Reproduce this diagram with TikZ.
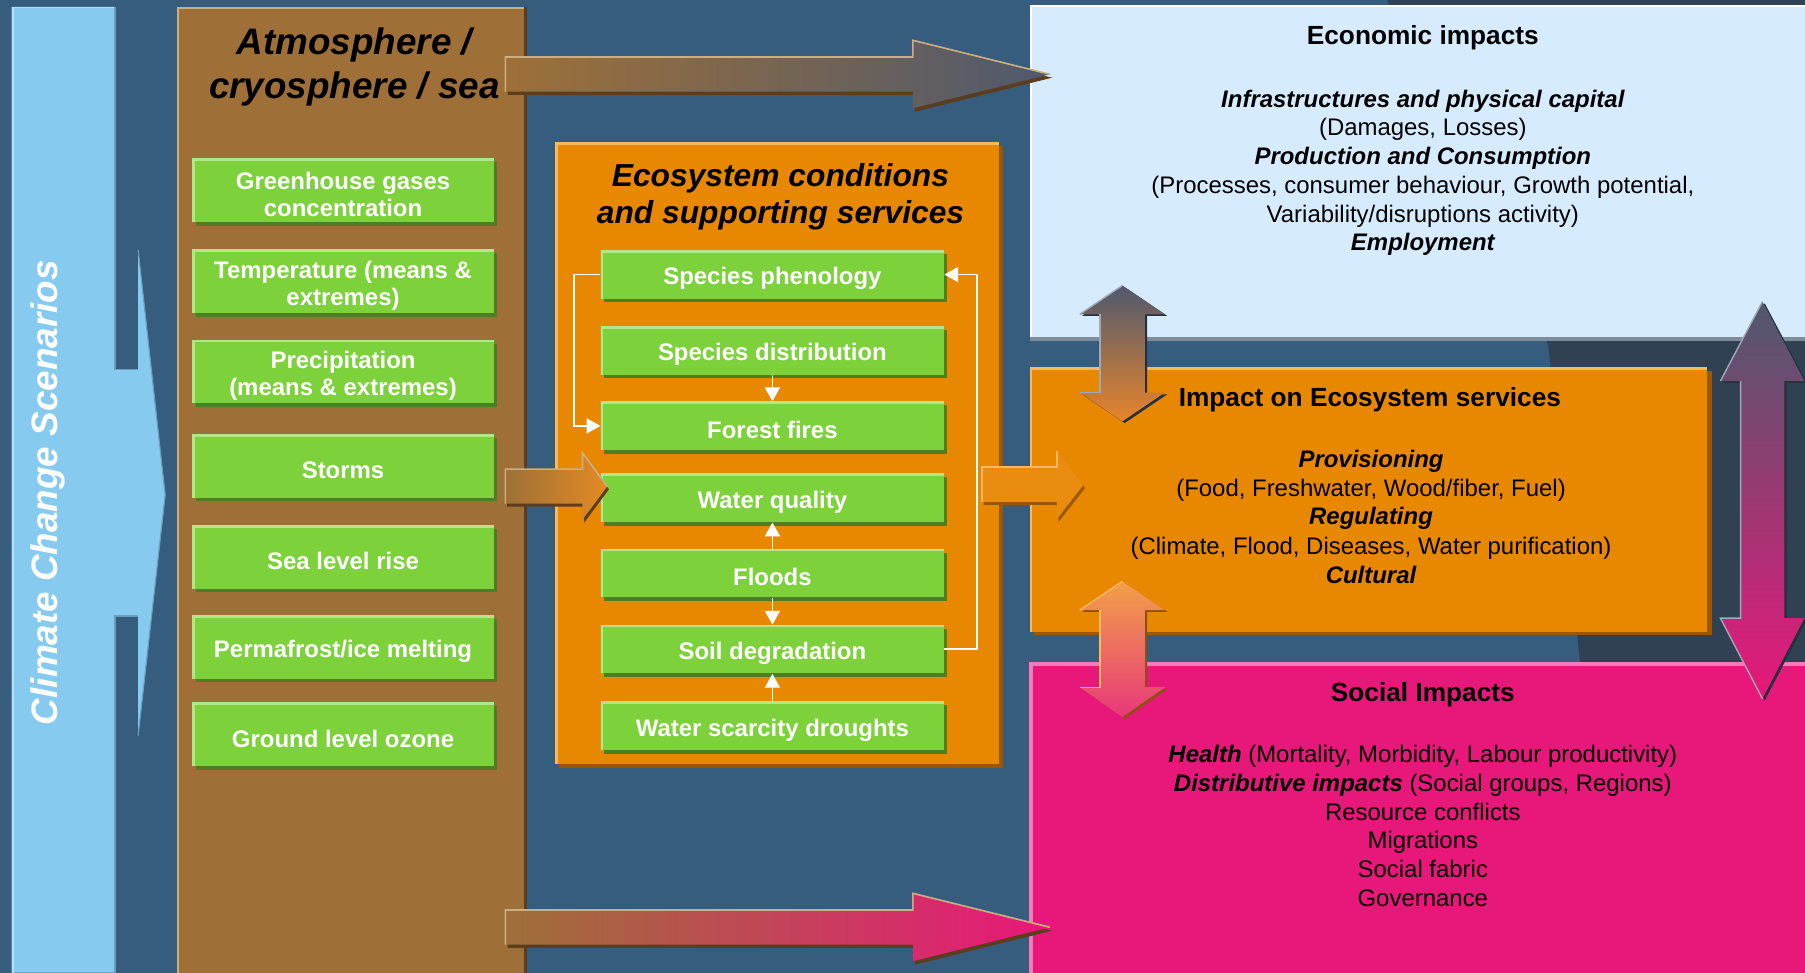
\documentclass[tikz,border=0pt]{standalone}
\usepackage{fontspec}
\setmainfont{Liberation Sans}
\usetikzlibrary{arrows.meta,shadows,calc}

\definecolor{bg}{HTML}{365C7E}
\definecolor{darkreg}{HTML}{2F4152}
\definecolor{lblue}{HTML}{86CBEF}
\definecolor{lblueedge}{HTML}{B4E0F6}
\definecolor{lbluedark}{HTML}{6A9CBE}
\definecolor{brn}{HTML}{9E7038}
\definecolor{brnlight}{HTML}{CDAE80}
\definecolor{brndark}{HTML}{5C3E1E}
\definecolor{gfill}{HTML}{7DD13B}
\definecolor{glight}{HTML}{B2E688}
\definecolor{gdark}{HTML}{4D7E22}
\definecolor{orng}{HTML}{E88800}
\definecolor{orng2}{HTML}{EA8C10}
\definecolor{orlight}{HTML}{F8B860}
\definecolor{ordark}{HTML}{9C5800}
\definecolor{econ}{HTML}{D6ECFE}
\definecolor{econdark}{HTML}{7F8D9A}
\definecolor{pnk}{HTML}{E8177A}
\definecolor{pnklight}{HTML}{F47CBA}
\definecolor{slate}{HTML}{4F596E}
\definecolor{arrorange}{HTML}{E38A22}
\definecolor{aAbot}{HTML}{E8842A}
\definecolor{aBtop}{HTML}{F2A048}
\definecolor{aBbot}{HTML}{E8387A}
\definecolor{greyedge}{HTML}{A0AAB6}
\definecolor{shadowdk}{HTML}{26303C}
\definecolor{brownshadow}{HTML}{8E5010}

\newcommand{\fBody}{\fontsize{10.4pt}{12.5pt}\selectfont}
\newcommand{\fHead}{\fontsize{11.4pt}{13pt}\selectfont\bfseries}
\newcommand{\fBig}{\fontsize{16pt}{19.5pt}\selectfont\bfseries\itshape}
\newcommand{\fEco}{\fontsize{13.8pt}{16.2pt}\selectfont\bfseries\itshape}
\newcommand{\fGreen}{\fontsize{10.4pt}{11.7pt}\selectfont\bfseries}
% green box: box node #2 of style #1 at #3 with text #4 set slightly low
\newcommand{\gbnode}[4]{%
  \node[#1] (#2) at #3 {};
  \node[gtext] (#2-t) at ([yshift=-1.8pt]#2.center) {#4};}

\begin{document}
\begin{tikzpicture}[x=0.5pt,y=-0.5pt,
  gbox/.style={fill=gfill, inner sep=0pt,
    drop shadow={shadow xshift=1.5pt, shadow yshift=-1.5pt, fill=gdark, opacity=1},
    path picture={\draw[glight,line width=2pt] (path picture bounding box.south west) -- (path picture bounding box.north west) -- (path picture bounding box.north east);}},
  gtext/.style={text=white, font=\fGreen, align=center, inner sep=0pt},
  lbox/.style={gbox, minimum width=131pt, minimum height=27.5pt},
  ebox/.style={gbox, minimum width=149pt, minimum height=21pt},
  wline/.style={draw=white, line width=0.8pt, -{Triangle[width=6.5pt,length=6pt]}},
  txt/.style={anchor=base, inner sep=0pt, font=\fBody},
  ttl/.style={anchor=base, inner sep=0pt},
]
\useasboundingbox (0,0) rectangle (1568,845);
\clip (0,0) rectangle (1568,845);
\fill[bg] (0,0) rectangle (1568,845);
\fill[darkreg] (1205,0) -- (1568,0) -- (1568,700) -- (1385,700) -- (1345,300) -- cycle;

% Climate change scenarios column
\fill[lblue] (10,6) -- (100,6) -- (100,321) -- (120,321) -- (120,217) -- (143.5,430) -- (120,639) -- (120,535) -- (100,535) -- (100,845) -- (10,845) -- cycle;
\draw[lblueedge, line width=0.8pt] (11,845) -- (11,6.5) -- (100,6.5);
\draw[lbluedark, line width=0.6pt] (100,6) -- (100,321) -- (120,321);
\draw[lbluedark, line width=0.6pt] (100,845) -- (100,535) -- (120,535);
\draw[lbluedark, line width=0.5pt] (120,217) -- (143.5,430) -- (120,639);
\node[rotate=90, text=white, font=\fBig, inner sep=0pt] (ccs) at (42,428) {Climate Change Scenarios};

% Brown column
\fill[brndark] (157,6) rectangle (458,845);
\fill[brn] (154,6) rectangle (455,845);
\draw[brnlight, line width=1pt] (154.8,845) -- (154.8,6.8) -- (455,6.8);
\node[ttl, font=\fBig] (atm1) at (308,47.5) {Atmosphere /};
\node[ttl, font=\fBig] (atm2) at (308,86) {cryosphere / sea};

\gbnode{lbox}{ghg}{(298,165.5)}{Greenhouse gases\\concentration}
\gbnode{lbox}{temp}{(298,244.5)}{Temperature (means \&\\extremes)}
\gbnode{lbox}{prec}{(298,323)}{Precipitation\\(means \& extremes)}
\gbnode{lbox}{storm}{(298,405)}{Storms}
\gbnode{lbox}{sea}{(298,484)}{Sea level rise}
\gbnode{lbox}{perma}{(298,562.3)}{Permafrost/ice melting}
\gbnode{lbox}{ozone}{(298,638)}{Ground level ozone}

% Ecosystem box
\fill[ordark] (486,127) rectangle (871,667);
\fill[orng] (483,124) rectangle (868,664);
\draw[orlight, line width=1.2pt] (483.6,664) -- (483.6,124.6) -- (868,124.6);
\node[ttl, font=\fEco] (eco1) at (678,161.6) {Ecosystem conditions};
\node[ttl, font=\fEco] (eco2) at (678,194.5) {and supporting services};

\gbnode{ebox}{phen}{(671,238.5)}{Species phenology}
\gbnode{ebox}{dist}{(671,304.5)}{Species distribution}
\gbnode{ebox}{ff}{(671,370)}{Forest fires}
\gbnode{ebox}{wq}{(671,432.5)}{Water quality}
\gbnode{ebox}{fl}{(671,498)}{Floods}
\gbnode{ebox}{sd}{(671,564)}{Soil degradation}
\gbnode{ebox}{ws}{(671,630.7)}{Water scarcity droughts}

\draw[wline] (phen.west) -- ++(-23,0) |- (ff.west);
\draw[wline] (sd.east) -- ++(28,0) |- (phen.east);
\draw[wline] (dist.south) -- (ff.north);
\draw[wline] (fl.north) -- (wq.south);
\draw[wline] (fl.south) -- (sd.north);
\draw[wline] (ws.north) -- (sd.south);

% Economic box
\fill[econdark] (895,8) rectangle (1568,296);
\fill[econ] (895,5) rectangle (1568,293);
\draw[white, line width=1pt] (895.6,293) -- (895.6,5.5) -- (1568,5.5);

% Impact box
\fill[ordark] (898,322) rectangle (1487,552);
\fill[orng] (895,319.5) rectangle (1483,549);
\draw[orlight, line width=1.2pt] (895.6,549) -- (895.6,320) -- (1483,320);

% Social box
\fill[pnk] (895,576) rectangle (1568,845);
\draw[pnklight, line width=1.5pt] (895.7,845) -- (895.7,576.8) -- (1568,576.8);

% Top block arrow
\begin{scope}[shift={(2,3)}]
\fill[brndark] (439,49.5) -- (793,49.5) -- (793,35) -- (912,64.5) -- (793,94) -- (793,79.5) -- (439,79.5) -- cycle;
\end{scope}
\shade[left color=brn, right color=slate] (439,49.5) -- (793,49.5) -- (793,35) -- (912,64.5) -- (793,94) -- (793,79.5) -- (439,79.5) -- cycle;
\draw[brnlight, line width=0.7pt] (439,79.5) -- (439,49.5) -- (793,49.5) -- (793,35) -- (912,64.5);

% Bottom block arrow
\begin{scope}[shift={(2,3)}]
\fill[brndark] (439,790.5) -- (793,790.5) -- (793,776) -- (912,805.5) -- (793,835) -- (793,820.5) -- (439,820.5) -- cycle;
\end{scope}
\shade[left color=brn, right color=pnk] (439,790.5) -- (793,790.5) -- (793,776) -- (912,805.5) -- (793,835) -- (793,820.5) -- (439,820.5) -- cycle;
\draw[brnlight, line width=0.7pt] (439,820.5) -- (439,790.5) -- (793,790.5) -- (793,776) -- (912,805.5);

% Storms -> Water quality arrow
\begin{scope}[shift={(1.5,2.5)}]
\fill[brndark] (439,407.5) -- (506,407.5) -- (506,393.5) -- (527.5,422.5) -- (506,451.5) -- (506,437.5) -- (439,437.5) -- cycle;
\end{scope}
\shade[left color=brn, right color=arrorange] (439,407.5) -- (506,407.5) -- (506,393.5) -- (527.5,422.5) -- (506,451.5) -- (506,437.5) -- (439,437.5) -- cycle;
\draw[brnlight, line width=0.7pt] (439,437.5) -- (439,407.5) -- (506,407.5) -- (506,393.5) -- (527.5,422.5);

% Ecosystem -> Impact arrow
\begin{scope}[shift={(1.5,2.5)}]
\fill[ordark] (853,405.5) -- (918,405.5) -- (918,391.5) -- (941,421.5) -- (918,451) -- (918,436) -- (853,436) -- cycle;
\end{scope}
\fill[orng2] (853,405.5) -- (918,405.5) -- (918,391.5) -- (941,421.5) -- (918,451) -- (918,436) -- (853,436) -- cycle;
\draw[orlight, line width=0.8pt] (853,436) -- (853,405.5) -- (918,405.5) -- (918,391.5);

% Double arrow Economic <-> Impact
\begin{scope}[shift={(2,1.5)}]
\fill[shadowdk] (975,248) -- (1012,273) -- (994.5,273) -- (994.5,341) -- (1012,341) -- (975,366) -- (938,341) -- (955.5,341) -- (955.5,273) -- (938,273) -- cycle;
\end{scope}
\shade[top color=slate, bottom color=aAbot] (975,248) -- (1012,273) -- (994.5,273) -- (994.5,341) -- (1012,341) -- (975,366) -- (938,341) -- (955.5,341) -- (955.5,273) -- (938,273) -- cycle;
\draw[greyedge, line width=0.6pt] (938,273) -- (975,248);
\draw[greyedge, line width=0.6pt] (955.5,273) -- (955.5,341) -- (938,341);

% Double arrow Impact <-> Social
\begin{scope}[shift={(2,1.5)}]
\fill[brownshadow] (975,505) -- (1012,530) -- (994.5,530) -- (994.5,597) -- (1012,597) -- (975,623) -- (938,597) -- (955.5,597) -- (955.5,530) -- (938,530) -- cycle;
\end{scope}
\shade[top color=aBtop, bottom color=aBbot] (975,505) -- (1012,530) -- (994.5,530) -- (994.5,597) -- (1012,597) -- (975,623) -- (938,597) -- (955.5,597) -- (955.5,530) -- (938,530) -- cycle;
\draw[orlight, line width=0.6pt] (938,530) -- (975,505);
\draw[orlight, line width=0.6pt] (955.5,530) -- (955.5,597) -- (938,597);

% Big double arrow Economic <-> Social
\begin{scope}[shift={(2,1.5)}]
\fill[shadowdk] (1531,262) -- (1567.5,331) -- (1550,331) -- (1550,537) -- (1567.5,537) -- (1531,607) -- (1494.5,537) -- (1512,537) -- (1512,331) -- (1494.5,331) -- cycle;
\end{scope}
\shade[top color=slate, bottom color=pnk] (1531,262) -- (1567.5,331) -- (1550,331) -- (1550,537) -- (1567.5,537) -- (1531,607) -- (1494.5,537) -- (1512,537) -- (1512,331) -- (1494.5,331) -- cycle;
\draw[greyedge, line width=0.6pt] (1494.5,331) -- (1531,262);
\draw[greyedge, line width=0.6pt] (1512,331) -- (1512,537) -- (1494.5,537) -- (1531,607);

% Economic texts
\node[txt, font=\fHead] (eh) at (1236,39) {Economic impacts};
\node[txt] (e1) at (1236,93) {\bfseries\itshape Infrastructures and physical capital};
\node[txt] (e2) at (1236,118) {(Damages, Losses)};
\node[txt] (e3) at (1236,143) {\bfseries\itshape Production and Consumption};
\node[txt] (e4) at (1236,168) {(Processes, consumer behaviour, Growth potential,};
\node[txt] (e5) at (1236,193) {Variability/disruptions activity)};
\node[txt] (e6) at (1236,218) {\bfseries\itshape Employment};

% Impact texts
\node[txt, font=\fHead] (ih) at (1190,353) {Impact on Ecosystem services};
\node[txt] (i1) at (1191,406) {\bfseries\itshape Provisioning};
\node[txt] (i2) at (1191,431) {(Food, Freshwater, Wood/fiber, Fuel)};
\node[txt] (i3) at (1191,456) {\bfseries\itshape Regulating};
\node[txt] (i4) at (1191,481.5) {(Climate, Flood, Diseases, Water purification)};
\node[txt] (i5) at (1191,506.5) {\bfseries\itshape Cultural};

% Social texts
\node[txt, font=\fHead] (sh) at (1236,609) {Social Impacts};
\node[txt] (s1) at (1236,662.5) {{\bfseries\itshape Health} (Mortality, Morbidity, Labour productivity)};
\node[txt] (s2) at (1236,687.5) {{\bfseries\itshape Distributive impacts} (Social groups, Regions)};
\node[txt] (s3) at (1236,712.5) {Resource conflicts};
\node[txt] (s4) at (1236,737.5) {Migrations};
\node[txt] (s5) at (1236,762.5) {Social fabric};
\node[txt] (s6) at (1236,787.5) {Governance};
\end{tikzpicture}
\end{document}
